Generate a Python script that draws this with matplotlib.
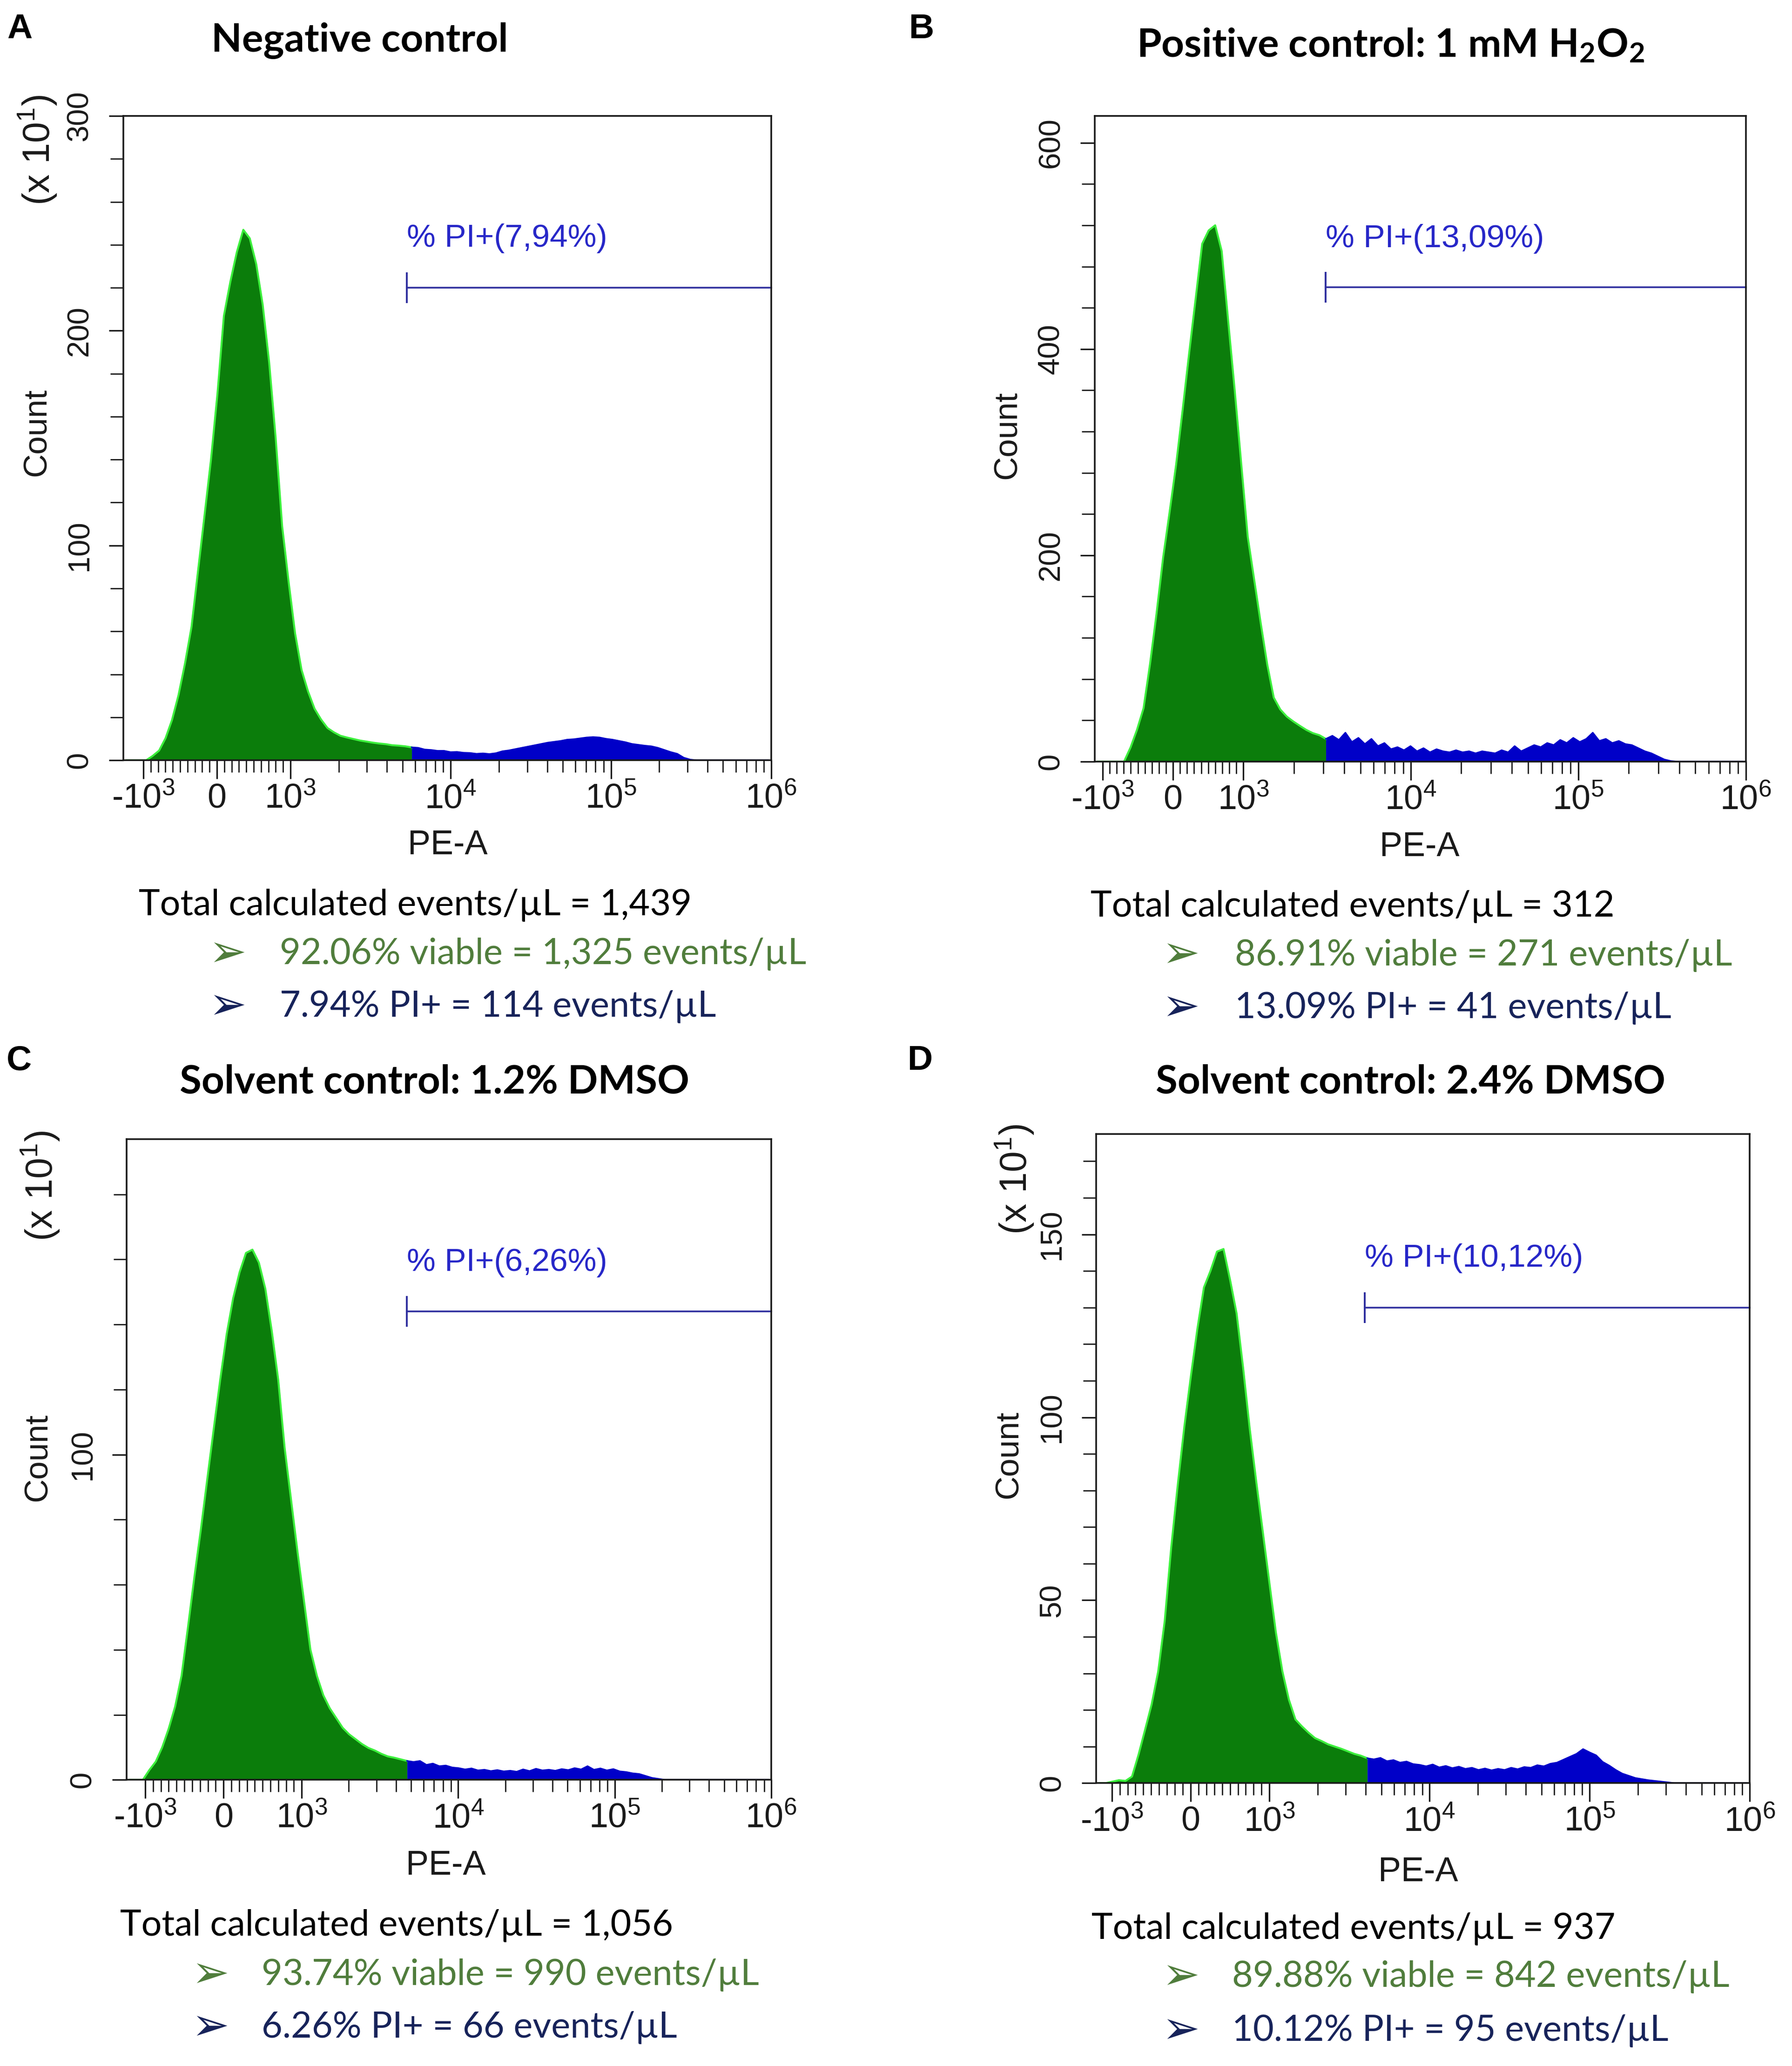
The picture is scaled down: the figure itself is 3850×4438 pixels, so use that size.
import numpy as np
import matplotlib
matplotlib.use("Agg")
import matplotlib.pyplot as plt
from matplotlib.ticker import FixedLocator, FixedFormatter

plt.rcParams['font.family'] = ['Liberation Sans', 'DejaVu Sans']
plt.rcParams['mathtext.fontset'] = 'custom'
plt.rcParams['mathtext.rm'] = 'Liberation Sans'

# layout grid of the reference picture (1357 x 1568 units)
W, H = 1357.0, 1568.0

def fx(x):
    return x / W

def fy(y):
    return 1.0 - y / H

# ---- data -------------------------------------------------------------
letters = ["A", "B", "C", "D"]
titles = ["Negative control",
          r"Positive control: 1 mM $\mathregular{H_2O_2}$",
          "Solvent control: 1.2% DMSO",
          "Solvent control: 2.4% DMSO"]

# counts per channel (channels evenly spaced along the PE-A axis)
counts_a = [0, 0, 0, 0, 2, 4.5, 10.3, 18.8, 30.4, 45.1,
            62, 87.9, 113.7, 139.7, 170.4, 206.9, 222.8, 236.6, 247, 243,
            231, 212, 185, 150, 109, 83, 59, 42, 32, 24,
            19, 15, 13, 11.4, 10.6, 9.9, 9.2, 8.7, 8.2, 7.8,
            7.5, 7.0, 6.8, 6.5, 6.0, 5.8, 5.0, 4.8, 4.4, 4.4,
            3.8, 3.9, 3.5, 3.4, 3.0, 3.2, 2.9, 3.3, 4.2, 4.6,
            5.2, 5.8, 6.4, 7.0, 7.6, 8.2, 8.6, 9.0, 9.6, 9.8,
            10.2, 10.6, 10.8, 10.6, 10.0, 9.6, 9.0, 8.4, 7.6, 7.2,
            6.8, 6.5, 5.8, 4.8, 3.8, 3.0, 1.2, 0.3, 0, 0,
            0, 0, 0, 0, 0, 0, 0, 0, 0, 0]
counts_b = [0, 0, 0, 0, 0, 13.7, 31, 51.8, 95, 144,
            197.6, 242, 288, 341, 396, 449, 502, 515, 520, 495,
            427, 360, 289, 218, 176, 134, 94, 62, 50.5, 43.6,
            38.9, 34.7, 30.7, 27.6, 25.6, 22, 25, 21, 28, 19,
            23, 17, 22, 15, 18, 12, 14, 11, 15, 10,
            13, 9, 12, 10, 9, 11, 9, 10, 8, 10,
            9, 8, 11, 9, 15, 10, 13, 16, 14, 18,
            16, 21, 18, 23, 19, 22, 28, 20, 22, 18,
            20, 17, 16, 13, 10, 8, 5, 2, 0.5, 0,
            0, 0, 0, 0, 0, 0, 0, 0, 0, 0]
counts_c = [0, 0, 0, 3, 5.6, 10, 15.7, 22.5, 32, 47,
            62.5, 77, 92.6, 108, 123, 137, 148, 156, 162, 163,
            159, 151, 138, 123, 102, 86, 70, 55, 40, 32,
            26, 22, 19, 16, 14, 12.5, 11, 9.8, 9, 8,
            7.2, 6.8, 6.3, 5.8, 5.5, 5.8, 4.6, 5.0, 4.2, 4.4,
            3.8, 3.6, 3.2, 3.5, 2.9, 3.1, 2.7, 3.0, 2.6, 2.8,
            2.5, 3.2, 2.7, 3.4, 2.9, 3.1, 2.8, 3.3, 3.0, 3.6,
            3.2, 4.2, 3.1, 3.5, 2.9, 3.3, 2.6, 2.4, 2.0, 1.8,
            1.2, 0.6, 0.3, 0, 0, 0, 0, 0, 0, 0,
            0, 0, 0, 0, 0, 0, 0, 0, 0, 0]
counts_d = [0, 0, 0.4, 0.8, 0.6, 1.8, 7.8, 14.6, 21.5, 30.5,
            44.3, 64.5, 81.6, 97.4, 111.2, 124.2, 135.5, 140, 145.3, 146,
            137.6, 128.4, 113.5, 97, 82.5, 68.8, 55, 41.3, 30.6, 22.8,
            17.4, 15.5, 13.8, 12.3, 11.5, 10.6, 10.0, 9.4, 8.7, 8.0,
            7.5, 6.8, 6.5, 6.9, 6.0, 6.3, 5.6, 5.9, 5.2, 5.0,
            4.6, 5.1, 4.3, 4.7, 4.1, 4.5, 3.9, 4.2, 3.6, 4.0,
            3.5, 3.9, 3.6, 4.2, 3.8, 4.4, 4.2, 4.9, 4.6, 5.3,
            5.6, 6.4, 7.2, 8.0, 9.3, 8.4, 7.6, 5.8, 4.8, 3.6,
            2.6, 2.0, 1.4, 1.1, 0.8, 0.6, 0.4, 0.2, 0, 0,
            0, 0, 0, 0, 0, 0, 0, 0, 0, 0]
all_counts = [counts_a, counts_b, counts_c, counts_d]

gate_start = [5330, 3100, 4700, 3930]      # PE-A where the PI+ gate begins
gate_level = [220, 460, 144, 130]
label_level = [243, 507, 159, 143.5]
gate_text = ["% PI+(7,94%)", "% PI+(13,09%)", "% PI+(6,26%)", "% PI+(10,12%)"]

y_top = [300, 626, 197, 177.5]
y_major = [[0, 100, 200, 300], [0, 200, 400, 600], [0, 100], [0, 50, 100, 150]]
y_minor_step = [20, 40, 20, 10]
x_major = [-1e3, 0, 1e3, 1e4, 1e5, 1e6]
x_major_labels = [r"-$\mathregular{10^3}$", "0", r"$\mathregular{10^3}$",
                  r"$\mathregular{10^4}$", r"$\mathregular{10^5}$",
                  r"$\mathregular{10^6}$"]

totals = ["Total calculated events/\u00b5L = 1,439",
          "Total calculated events/\u00b5L = 312",
          "Total calculated events/\u00b5L = 1,056",
          "Total calculated events/\u00b5L = 937"]
viable = ["92.06% viable = 1,325 events/\u00b5L",
          "86.91% viable = 271 events/\u00b5L",
          "93.74% viable = 990 events/\u00b5L",
          "89.88% viable = 842 events/\u00b5L"]
pi_pos = ["7.94% PI+ = 114 events/\u00b5L",
          "13.09% PI+ = 41 events/\u00b5L",
          "6.26% PI+ = 66 events/\u00b5L",
          "10.12% PI+ = 95 events/\u00b5L"]

# ---- layout (reference units) ----------------------------------------
layout = [
    dict(box=(93.5, 88, 584, 577), linscale=0.413, xmin=-1330,
         letter=(15, 29), title=(272.5, 39, 226), count=(28, 328),
         x10=(28, 114), pea=(339, 641.5), tx=(105, 158, 212), ty=(687, 724, 764)),
    dict(box=(829, 88, 1322, 578), linscale=0.378, xmin=-1115,
         letter=(698, 29), title=(1053, 43, 384), count=(763, 330),
         x10=None, pea=(1075, 642.7), tx=(826, 880, 935), ty=(688, 725, 765)),
    dict(box=(96, 864.5, 584, 1350.8), linscale=0.45, xmin=-1312,
         letter=(14.5, 812), title=(329, 829.6, 385), count=(29, 1106),
         x10=(30, 900), pea=(337.5, 1416), tx=(91, 145, 198), ty=(1461.6, 1499, 1539)),
    dict(box=(830, 860.5, 1325, 1353.3), linscale=0.443, xmin=-1254,
         letter=(697, 812), title=(1068, 829.6, 385), count=(764, 1104),
         x10=(768, 895), pea=(1074, 1421), tx=(826.5, 880, 933), ty=(1464, 1500.5, 1541.4)),
]

GREEN = '#0b7d0b'
LIME = '#3cf03c'
BLUE = '#0000c8'
GATE = '#2e2e9e'
GATE_TXT = '#2727c8'
OLIVE = '#507d3c'
NAVY = '#17235a'
AXC = '#1a1a1a'

fig = plt.figure(figsize=(38.5, 44.38), dpi=100)
renderer = fig.canvas.get_renderer()


def fit_size(text, target, **kw):
    t = fig.text(0, 0, text, fontsize=40, **kw)
    w = t.get_window_extent(renderer).width
    t.remove()
    return 40 * target * (3850.0 / W) / w


title_size = np.mean([fit_size(titles[i], layout[i]['title'][2], family='Lato', weight='bold')
                      for i in range(4)])
body_size = fit_size(totals[0], 419, family='Lato')

x_minor = [s * m * 100 for s in (-1, 1) for m in range(1, 10)]
x_minor += [m * 10 ** d for d in (3, 4, 5) for m in range(2, 10)]

for i in range(4):
    lay = layout[i]
    l, t, r, b = lay['box']
    ax = fig.add_axes([fx(l), fy(b), fx(r) - fx(l), fy(t) - fy(b)])
    ax.set_xscale('symlog', linthresh=1000, linscale=lay['linscale'], base=10)
    ax.set_xlim(lay['xmin'], 1e6)
    ax.set_ylim(0, y_top[i])

    counts = np.array(all_counts[i], dtype=float)
    tr = ax.xaxis.get_transform()
    lo, hi = tr.transform_non_affine(np.array([lay['xmin'], 1e6]))
    n = len(counts)
    pos = lo + (hi - lo) * (np.arange(n) + 0.5) / n
    centers = tr.inverted().transform_non_affine(pos)

    k = int(np.argmax(centers >= gate_start[i]))
    ax.fill_between(centers[:k + 1], counts[:k + 1], color=GREEN, lw=0, zorder=2)
    ax.plot(centers[:k + 1], counts[:k + 1], color=LIME, lw=3.0, zorder=2.1)
    ax.fill_between(centers[k:], counts[k:], color=BLUE, lw=0, zorder=2)
    ax.plot(centers[k:], counts[k:], color=BLUE, lw=2.4, zorder=2.1)

    # PI+ gate marker
    ax.plot([gate_start[i], 1e6], [gate_level[i], gate_level[i]], color=GATE, lw=2.6,
            clip_on=False)
    ax.plot([gate_start[i]], [gate_level[i]], marker='|', markersize=48, mew=2.8,
            color=GATE)
    ax.text(gate_start[i], label_level[i], gate_text[i], color=GATE_TXT, fontsize=50,
            ha='left', va='center')

    for sp in ax.spines.values():
        sp.set_color(AXC)
        sp.set_linewidth(2.6)

    ax.xaxis.set_major_locator(FixedLocator(x_major))
    ax.xaxis.set_major_formatter(FixedFormatter(x_major_labels))
    ax.xaxis.set_minor_locator(FixedLocator(x_minor))
    ax.yaxis.set_major_locator(FixedLocator(y_major[i]))
    ax.yaxis.set_major_formatter(FixedFormatter([str(v) for v in y_major[i]]))
    ax.yaxis.set_minor_locator(FixedLocator(list(range(0, int(y_top[i]) + 1, y_minor_step[i]))))
    ax.tick_params(axis='x', which='major', direction='out', length=29, width=2.4,
                   pad=6, labelsize=53, colors=AXC)
    ax.tick_params(axis='x', which='minor', direction='out', length=19, width=2.0,
                   colors=AXC)
    ax.tick_params(axis='y', which='major', direction='out', length=22, width=2.4,
                   pad=24, labelsize=47, labelrotation=90, colors=AXC)
    ax.tick_params(axis='y', which='minor', direction='out', length=20, width=2.0,
                   colors=AXC)
    for lab in ax.get_yticklabels():
        lab.set_va('center')

    # labels around the plot
    fig.text(fx(lay['letter'][0]), fy(lay['letter'][1]), letters[i], fontsize=54,
             weight='bold', ha='center', va='baseline')
    fig.text(fx(lay['title'][0]), fy(lay['title'][1]), titles[i], fontsize=title_size,
             family='Lato', weight='bold', ha='center', va='baseline')
    fig.text(fx(lay['count'][0]), fy(lay['count'][1]), 'Count', fontsize=51,
             rotation=90, ha='center', va='center', color=AXC)
    if lay['x10'] is not None:
        fig.text(fx(lay['x10'][0]), fy(lay['x10'][1]), r'(x $\mathregular{10^1}$)',
                 fontsize=58, rotation=90, ha='center', va='center', color=AXC)
    fig.text(fx(lay['pea'][0]), fy(lay['pea'][1]), 'PE-A', fontsize=53,
             ha='center', va='center', color=AXC)

    # event summary under the plot
    x0, xa, xt = lay['tx']
    y0, y1, y2 = lay['ty']
    fig.text(fx(x0), fy(y0), totals[i], fontsize=body_size, family='Lato',
             ha='left', va='center', color='black')
    fig.text(fx(xa), fy(y1), '\u27a2', fontsize=body_size * 1.25, family='DejaVu Sans',
             ha='left', va='center', color=OLIVE)
    fig.text(fx(xt), fy(y1), viable[i], fontsize=body_size, family='Lato',
             ha='left', va='center', color=OLIVE)
    fig.text(fx(xa), fy(y2), '\u27a2', fontsize=body_size * 1.25, family='DejaVu Sans',
             ha='left', va='center', color=NAVY)
    fig.text(fx(xt), fy(y2), pi_pos[i], fontsize=body_size, family='Lato',
             ha='left', va='center', color=NAVY)

fig.savefig('out.png', dpi=100, facecolor='white')
